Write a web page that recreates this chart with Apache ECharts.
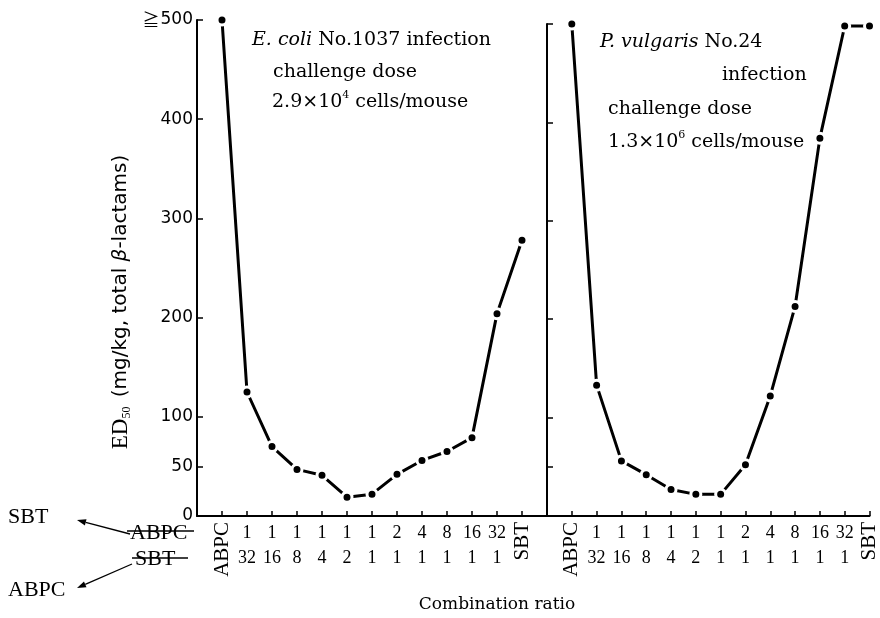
<!DOCTYPE html>
<html><head><meta charset="utf-8">
<script src="https://cdn.jsdelivr.net/npm/echarts@6/dist/echarts.min.js"></script>
<style>html,body{margin:0;padding:0;background:#fff}#c{width:880px;height:618px}</style>
</head><body><div id="c"></div>
<script>
// ---- data ----
const categories = ['ABPC','1:32','1:16','1:8','1:4','1:2','1:1','2:1','4:1','8:1','16:1','32:1','SBT'];
const ratioTop    = ['1','1','1','1','1','1','2','4','8','16','32'];
const ratioBottom = ['32','16','8','4','2','1','1','1','1','1','1'];
const endLabels = ['ABPC','SBT'];
const ecoli    = [500,125,70,47,41,19,22,42,56,65,79,204,278];
const vulgaris = [500,133,56,42,27,22,22,52,122,213,384,498,498];
const yTickValues = [0,50,100,200,300,400,500];
const yTickLabels = ['0','50','100','200','300','400','500'];

const SERIF = '"Liberation Serif", "DejaVu Serif", serif';
const SERIF2 = '"DejaVu Serif", serif';
const SANS = '"DejaVu Sans", "Liberation Sans", sans-serif';
const CJK = '"Noto Sans CJK SC", "Noto Sans CJK JP", sans-serif';

const chart = echarts.init(document.getElementById('c'), null, {renderer:'canvas'});

const catPos = categories.map((c,i)=>i+1);
const ratioPos = ratioTop.map((c,i)=>i+2);
const endPos = [1, categories.length];

function xAxes(gridIndex, max){
  return [{
    gridIndex, type:'value', min:0, max, interval:1,
    axisLine:{show:true, lineStyle:{color:'#000', width:2}},
    axisTick:{show:true, inside:true, length:5, customValues:catPos, lineStyle:{color:'#000', width:1.5}},
    splitLine:{show:false},
    axisLabel:{show:true, customValues:ratioPos, margin:5, color:'#000',
      fontFamily:SERIF, fontSize:18, lineHeight:25,
      formatter:v=>ratioTop[v-2]+'\n'+ratioBottom[v-2]}
  },{
    gridIndex, type:'value', min:0, max, interval:1, position:'bottom',
    axisLine:{show:false}, axisTick:{show:false}, splitLine:{show:false},
    axisLabel:{show:true, customValues:endPos, rotate:90, margin:6, color:'#000',
      fontFamily:SERIF, fontSize:21,
      formatter:v=> v===1 ? endLabels[0] : endLabels[1]}
  }];
}
function yAxis(gridIndex, labels){
  const a = {
    gridIndex, type:'value', min:0, max:500, interval:50,
    axisLine:{show:true, lineStyle:{color:'#000', width:2}},
    axisTick:{show:true, inside:true, length:6, customValues:yTickValues.slice(1), lineStyle:{color:'#000', width:1.5}},
    splitLine:{show:false},
    axisLabel:{show:labels, customValues:yTickValues, margin:4, color:'#000',
      fontFamily:SANS, fontSize:17,
      rich:{ge:{fontFamily:CJK, fontSize:17, color:'#000', padding:[0,1,0,0]}},
      formatter:v=> (v===500 ? '{ge|≧}' : '') + yTickLabels[yTickValues.indexOf(v)]}
  };
  if(labels){
    a.name = '{ed|ED}{sub|50}{t| (mg/kg, total }{b|β}{t|-lactams)}';
    a.nameLocation = 'middle';
    a.nameGap = 64;
    a.nameRotate = 90;
    a.nameTextStyle = {padding:[0,68,0,0], color:'#000', rich:{
      ed:{fontFamily:SERIF, fontSize:23, color:'#000', lineHeight:24, verticalAlign:'middle'},
      sub:{fontFamily:SERIF, fontSize:12, color:'#000', lineHeight:24, verticalAlign:'bottom', padding:[0,3,0,0]},
      t:{fontFamily:SANS, fontSize:20, color:'#000', lineHeight:24, verticalAlign:'middle'},
      b:{fontFamily:SANS, fontSize:20, fontStyle:'italic', color:'#000', lineHeight:24, verticalAlign:'middle'}
    }};
  }
  return a;
}
function lineSeries(vals, xi, yi){
  return {
    type:'line', xAxisIndex:xi, yAxisIndex:yi,
    data: vals.map((v,i)=>[catPos[i], v]),
    symbol:'circle', symbolSize:10,
    itemStyle:{color:'#000', borderColor:'#fff', borderWidth:3},
    lineStyle:{color:'#000', width:3},
    animation:false, z:3
  };
}

const annoRich = {
  n:{fontFamily:SERIF2, fontSize:19, color:'#000', lineHeight:24, verticalAlign:'middle'},
  i:{fontFamily:SERIF2, fontSize:19, fontStyle:'italic', color:'#000', lineHeight:24, verticalAlign:'middle'},
  sup:{fontFamily:SERIF2, fontSize:11, color:'#000', lineHeight:13, verticalAlign:'top'}
};
function txt(x, y, text){
  return {type:'text', x, y, style:{text, font:'19px '+SERIF2, fill:'#000', verticalAlign:'middle', rich:annoRich}};
}
function arrow(x1,y1,x2,y2){
  const ang = Math.atan2(y2-y1, x2-x1), L=9, W=3.2;
  const bx = x2 - L*Math.cos(ang), by = y2 - L*Math.sin(ang);
  const px = -Math.sin(ang)*W, py = Math.cos(ang)*W;
  return [
    {type:'line', shape:{x1,y1,x2:bx,y2:by}, style:{stroke:'#000', lineWidth:1.3}},
    {type:'polygon', shape:{points:[[x2,y2],[bx+px,by+py],[bx-px,by-py]]}, style:{fill:'#000'}}
  ];
}

const graphics = [
  txt(252, 40, '{i|E. coli}{n| No.1037 infection}'),
  txt(273, 72, '{n|challenge dose}'),
  txt(272, 102, '{n|2.9×10}{sup|4}{n| cells/mouse}'),
  txt(600, 42, '{i|P. vulgaris}{n| No.24}'),
  txt(722, 75, '{n|infection}'),
  txt(608, 109, '{n|challenge dose}'),
  txt(608, 142, '{n|1.3×10}{sup|6}{n| cells/mouse}'),
  {type:'text', x:497, y:605, style:{text:'Combination ratio', font:'17px '+SERIF2, fill:'#000', align:'center', verticalAlign:'middle'}},
  {type:'text', x:8, y:517, style:{text:'SBT', font:'22px '+SERIF, fill:'#000', verticalAlign:'middle'}},
  {type:'text', x:8, y:590, style:{text:'ABPC', font:'22px '+SERIF, fill:'#000', verticalAlign:'middle'}},
  {type:'text', x:130, y:533, style:{text:'ABPC', font:'22px '+SERIF, fill:'#000', verticalAlign:'middle'}},
  {type:'text', x:135, y:559, style:{text:'SBT', font:'22px '+SERIF, fill:'#000', verticalAlign:'middle'}},
  {type:'line', shape:{x1:127,y1:531,x2:194,y2:531}, style:{stroke:'#000', lineWidth:1.5}},
  {type:'line', shape:{x1:132,y1:558,x2:188,y2:558}, style:{stroke:'#000', lineWidth:1.5}},
  ...arrow(130,534,77,520),
  ...arrow(132,564,77,588)
];

chart.setOption({
  backgroundColor:'#fff',
  animation:false,
  grid:[
    {left:197, top:20, width:350, height:496},
    {left:547, top:24, width:323, height:492}
  ],
  xAxis:[...xAxes(0,14), ...xAxes(1,13)],
  yAxis:[yAxis(0,true), yAxis(1,false)],
  series:[lineSeries(ecoli,0,0), lineSeries(vulgaris,2,1)],
  graphic:graphics
});
</script></body></html>
